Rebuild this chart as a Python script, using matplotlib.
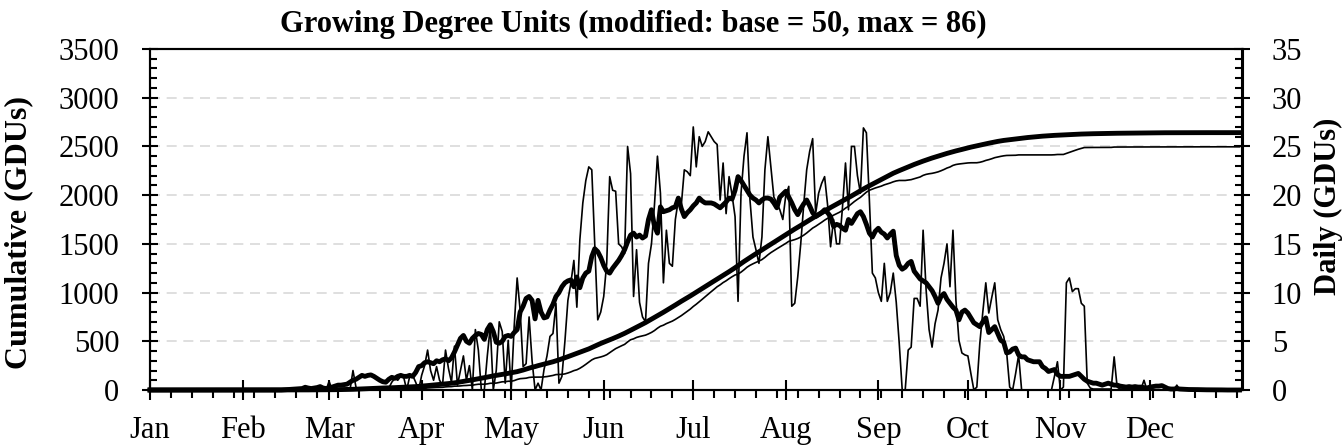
import numpy as np
import matplotlib
matplotlib.use("Agg")
import matplotlib.pyplot as plt
from matplotlib.ticker import MultipleLocator

# ---------------- data ----------------
month_labels = ["Jan", "Feb", "Mar", "Apr", "May", "Jun",
                "Jul", "Aug", "Sep", "Oct", "Nov", "Dec"]
month_start_day = [0, 31, 60, 91, 121, 152, 182, 213, 244, 274, 305, 335]  # leap year

# long-term average daily GDUs (thick line), day 0 = Jan 1
avg_daily = (
    [0.0] * 45 +
    [0.02, 0.03, 0.05, 0.08, 0.1, 0.12, 0.15, 0.28, 0.2, 0.15, 0.2, 0.25, 0.35, 0.2, 0.15] +
    [0.2, 0.3, 0.4, 0.5, 0.5, 0.55, 0.6, 0.8, 1.0, 1.1] +
    [1.3, 1.5, 1.4, 1.5, 1.55, 1.4, 1.2, 1.0, 0.85, 0.8] +
    [1.1, 1.3, 1.2, 1.4, 1.5, 1.4, 1.4, 1.5, 1.4, 1.8] +
    [2.4, 2.5, 2.8, 2.9, 2.8, 2.7, 3.0, 2.9, 3.1, 3.2] +
    [3.0, 3.3, 3.9, 4.6, 5.3, 5.6, 5.0, 4.8, 5.3, 5.6] +
    [5.8, 5.7, 5.2, 6.2, 6.7, 6.0, 4.9, 4.8, 5.0, 5.5] +
    [5.6, 5.5, 5.9, 6.2, 8.0, 8.6, 9.4, 9.6, 9.2, 7.3] +
    [9.2, 8.0, 7.4, 7.5, 8.2, 8.8, 9.6, 10.0, 10.6, 11.0] +
    [11.2, 11.3, 10.6, 11.6, 10.5, 11.5, 12.0, 12.2, 13.7, 14.5] +
    [14.2, 13.6, 12.8, 12.2, 12.0, 12.5, 12.9, 13.3, 13.8, 14.4] +
    [15.2, 15.9, 16.1, 15.7, 15.9, 15.6, 15.8, 17.5, 18.5, 16.8] +
    [16.1, 18.8, 18.3, 18.4, 18.5, 18.7, 18.8, 19.7, 18.6, 17.8] +
    [18.2, 18.5, 18.9, 19.2, 19.7, 19.4, 19.2, 19.2, 19.2, 19.1] +
    [18.9, 18.7, 19.0, 19.3, 19.7, 19.6, 20.5, 21.9, 21.5, 21.0] +
    [20.5, 20.0, 19.7, 19.5, 19.2, 19.5, 19.7, 19.7, 19.6, 19.2] +
    [18.7, 19.8, 20.1, 20.4, 19.8, 19.2, 18.5, 18.0, 18.6, 19.1] +
    [19.5, 18.9, 18.2, 17.8, 18.0, 18.2, 18.5, 18.2, 17.8, 16.8] +
    [17.0, 16.9, 16.6, 16.4, 17.5, 17.1, 17.6, 18.1, 18.3, 17.8] +
    [17.0, 16.1, 15.7, 16.3, 16.6, 16.2, 16.0, 15.6, 16.0, 16.3] +
    [13.8, 12.8, 12.4, 12.6, 13.0, 13.2, 12.2, 11.8, 11.4, 11.2] +
    [11.0, 10.6, 10.2, 9.6, 8.9, 9.6, 9.9, 9.3, 8.9, 8.5] +
    [8.2, 7.2, 8.0, 8.2, 7.9, 7.4, 6.9, 6.7, 6.5, 7.0] +
    [7.4, 5.9, 6.2, 6.5, 5.8, 5.1, 4.9, 3.8, 3.9, 4.2] +
    [4.3, 3.6, 3.4, 3.4, 3.1, 3.0, 2.9, 2.9, 2.9, 2.4] +
    [2.2, 1.9, 2.0, 2.1, 1.6, 1.4, 1.4, 1.4, 1.4, 1.5] +
    [1.6, 1.7, 1.4, 1.1, 0.9, 0.8, 0.7, 0.7, 0.6, 0.5] +
    [0.6, 0.7, 0.6, 0.5, 0.5, 0.4, 0.35, 0.3, 0.35, 0.3] +
    [0.35, 0.3, 0.3, 0.25, 0.2, 0.3, 0.35, 0.4, 0.4, 0.45] +
    [0.3, 0.15, 0.1, 0.1, 0.15, 0.1, 0.08, 0.06, 0.05, 0.05] +
    [0.04, 0.04, 0.03, 0.03, 0.02, 0.02, 0.02, 0.01, 0.01, 0.01, 0, 0, 0, 0, 0, 0]
)

# single-year daily GDUs (thin line)
year_daily = (
    [0.0] * 60 +
    [0.9, 0, 0, 0, 0, 0, 0, 0, 2.0, 0.3] +
    [0, 0, 0, 0, 0, 0, 0, 0, 0, 0] +
    [0.2, 0.8, 1.2, 1.0, 1.4, 1.3, 0, 1.4, 1.5, 0.8] +
    [0, 1.5, 2.5, 4.1, 2.0, 1.0, 2.4, 1.0, 0.5, 4.1] +
    [2.2, 0.8, 4.5, 0.5, 2.0, 3.5, 1.0, 2.5, 0, 6.2] +
    [4.1, 0, 0, 3.5, 6.5, 0, 2.0, 7.0, 6.0, 0.7] +
    [5.1, 0, 6.5, 11.5, 8.2, 2.4, 2.7, 7.5, 3.0, 0] +
    [0.7, 0, 2.1, 3.5, 5.5, 5.8, 8.9, 0.7, 1.4, 5.0] +
    [9.2, 11.0, 13.3, 8.5, 15.4, 19.2, 21.5, 22.9, 22.6, 15.0] +
    [7.2, 8.0, 9.6, 13.0, 21.9, 20.5, 20.4, 15.0, 14.7, 14.0] +
    [25.0, 22.2, 9.6, 14.4, 9.0, 7.5, 7.0, 13.0, 15.0, 19.0] +
    [24.0, 20.2, 11.0, 16.4, 13.0, 12.7, 17.5, 19.5, 19.0, 22.6] +
    [22.4, 22.0, 27.0, 22.9, 26.0, 25.0, 25.5, 26.5, 26.0, 25.5] +
    [25.2, 19.5, 23.3, 18.1, 21.9, 20.0, 17.8, 9.1, 20.2, 24.0] +
    [26.4, 19.5, 15.7, 14.4, 13.0, 15.7, 22.6, 26.0, 22.9, 19.8] +
    [19.2, 18.5, 17.5, 20.0, 20.9, 8.6, 8.9, 11.6, 15.0, 19.0] +
    [22.6, 24.5, 25.8, 18.1, 20.2, 21.2, 21.9, 19.0, 14.7, 17.5] +
    [15.0, 15.0, 18.8, 23.3, 18.5, 25.0, 25.0, 22.0, 20.2, 26.9] +
    [26.4, 19.5, 12.0, 11.5, 10.0, 9.1, 13.0, 9.1, 10.0, 12.0] +
    [9.0, 4.8, 0, 0, 4.1, 4.4, 9.4, 9.4, 8.6, 16.4] +
    [10.3, 6.2, 4.4, 6.8, 8.2, 11.5, 13.0, 15.0, 10.6, 16.4] +
    [9.2, 5.1, 3.8, 3.6, 3.5, 1.7, 0, 0.3, 4.8, 8.0] +
    [11.0, 7.9, 9.5, 11.0, 7.2, 6.2, 5.5, 3.8, 0.3, 0] +
    [1.7, 3.6, 0, 0, 0, 0, 0, 0, 0, 0] +
    [0, 0, 0, 1.4, 2.9, 0, 0.3, 11.0, 11.5, 10.1] +
    [10.4, 10.4, 8.9, 8.6, 0.7, 0.2, 0.1, 0.1, 0.1, 0.1] +
    [0.1, 0.1, 0.1, 3.4, 0.3, 0.1, 0.1, 0.1, 0.1, 0.1] +
    [0.1, 0.1, 0.1, 1.0, 0, 0, 0, 0, 0, 0] +
    [0, 0, 0, 0, 0.5, 0, 0, 0, 0, 0] +
    [0.0] * 16
)

left_ticks = [0, 500, 1000, 1500, 2000, 2500, 3000, 3500]
right_ticks = [0, 5, 10, 15, 20, 25, 30, 35]

title_text = "Growing Degree Units (modified: base = 50, max = 86)"
left_label = "Cumulative (GDUs)"
right_label = "Daily (GDUs)"

# ---------------- derived ----------------
days = np.arange(len(avg_daily))
avg_cum = np.cumsum(avg_daily)
year_cum = np.cumsum(year_daily)

# ---------------- figure ----------------
plt.rcParams['font.family'] = ['Liberation Serif', 'DejaVu Serif']
FS = 22

W, H = 1344, 448
fig = plt.figure(figsize=(W / 100, H / 100), dpi=100)
x0, x1, y0, y1 = 150, 1242.5, 49, 390
ax = fig.add_axes([x0 / W, 1 - y1 / H, (x1 - x0) / W, (y1 - y0) / H])
ax2 = ax.twinx()

ax.set_xlim(0, 366)
ax.set_ylim(0, 3500)
ax2.set_ylim(0, 35)

ax.set_axisbelow(True)
ax.yaxis.grid(True, which='major', color='#d9d9d9', linestyle=(0, (6, 4)), linewidth=1.2)

ax.plot(days, avg_cum, color='black', lw=3.5, clip_on=False, solid_joinstyle='round')
ax.plot(days, year_cum, color='black', lw=1.2, clip_on=False)
ax2.plot(days, avg_daily, color='black', lw=3.5, clip_on=False, solid_joinstyle='round')
ax2.plot(days, year_daily, color='black', lw=1.2, clip_on=False)

for a in (ax, ax2):
    for s in a.spines.values():
        s.set_linewidth(1.5)
        s.set_color('black')

ax.set_xticks(month_start_day)
ax.set_xticklabels(month_labels)
ax.xaxis.set_minor_locator(MultipleLocator(7))
ax.tick_params(axis='x', which='major', direction='inout', length=14, width=1.5,
               pad=12, labelsize=FS)
ax.tick_params(axis='x', which='minor', direction='out', length=5.5, width=1.5)

ax.set_yticks(left_ticks)
ax.set_yticklabels([str(v) for v in left_ticks])
ax.yaxis.set_minor_locator(MultipleLocator(100))
ax.tick_params(axis='y', which='major', direction='inout', length=12, width=1.5,
               pad=16, labelsize=FS)
ax.tick_params(axis='y', which='minor', direction='in', length=5, width=1.5)

ax2.set_yticks(right_ticks)
ax2.set_yticklabels([str(v) for v in right_ticks])
ax2.yaxis.set_minor_locator(MultipleLocator(1))
ax2.tick_params(axis='y', which='major', direction='inout', length=12, width=1.5,
                pad=15, labelsize=FS)
ax2.tick_params(axis='y', which='minor', direction='in', length=5, width=1.5)

fig.text(633 / W, 1 - 24 / H, title_text, ha='center', va='center',
         fontsize=FS, fontweight='bold')
fig.text(19 / W, 1 - 232 / H, left_label, ha='center', va='center',
         rotation=90, fontsize=23, fontweight='bold')
fig.text(1328 / W, 1 - 206 / H, right_label, ha='center', va='center',
         rotation=90, fontsize=FS, fontweight='bold')

fig.savefig("out.png", dpi=100)
